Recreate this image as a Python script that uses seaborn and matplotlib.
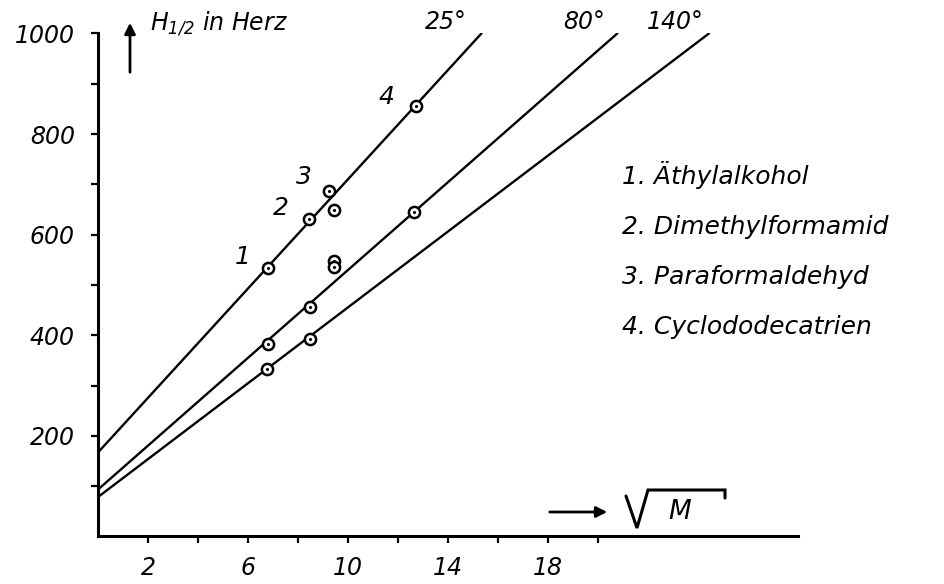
import matplotlib
matplotlib.use("Agg")
import matplotlib.pyplot as plt
import matplotlib.lines as mlines
import seaborn as sns
import pandas as pd

# ---------------- data ----------------
temps = ["25°", "80°", "140°"]
line_x_start = [0.0, 0.0, 0.0]
line_y_start = [168, 94, 79]
line_x_end = [15.33, 20.77, 24.44]
line_y_end = [1000, 1000, 1000]

compounds = ["Äthylalkohol", "Dimethylformamid", "Paraformaldehyd", "Cyclododecatrien"]

sqrtM_25 = [6.78, 8.41, 9.21, 12.69]
H_25 = [533, 631, 687, 856]
sqrtM_80 = [6.78, 8.48, 12.62]
H_80 = [382, 457, 644]
sqrtM_140 = [6.74, 8.48]
H_140 = [333, 392]
sqrtM_extra = [9.41, 9.44, 9.41]
H_extra = [649, 547, 536]

x_major = [2, 6, 10, 14, 18]
x_minor = [4, 8, 12, 16, 20]
y_major = [200, 400, 600, 800, 1000]
y_minor = [100, 300, 500, 700, 900]

# ---------------- style ----------------
sns.set_theme(style="ticks")
plt.rcParams["font.family"] = ["DejaVu Sans"]
plt.rcParams["font.style"] = "italic"
plt.rcParams["mathtext.fontset"] = "dejavusans"
plt.rcParams["mathtext.default"] = "it"
plt.rcParams["text.color"] = "black"
plt.rcParams["xtick.color"] = "black"
plt.rcParams["ytick.color"] = "black"
plt.rcParams["xtick.labelcolor"] = "black"
plt.rcParams["ytick.labelcolor"] = "black"

W, H = 945, 584
fig = plt.figure(figsize=(W / 100, H / 100), dpi=100)
fig.patch.set_facecolor("white")


def P(x, y):
    return (x / W, 1 - y / H)


ax = fig.add_axes([98.5 / W, 1 - 536.4 / H, (798 - 98.5) / W, (536.4 - 33.4) / H])
ax.set_facecolor("white")

lines_df = pd.DataFrame({
    "x": line_x_start + line_x_end,
    "y": line_y_start + line_y_end,
    "T": temps + temps,
})
sns.lineplot(data=lines_df, x="x", y="y", hue="T", palette=["black"] * 3,
             estimator=None, sort=False, legend=False, linewidth=1.7, ax=ax)

pts = pd.DataFrame({
    "x": sqrtM_25 + sqrtM_80 + sqrtM_140 + sqrtM_extra,
    "y": H_25 + H_80 + H_140 + H_extra,
})
sns.scatterplot(data=pts, x="x", y="y", marker="o", s=65, facecolor="white",
                edgecolor="black", linewidth=1.8, zorder=3, ax=ax, legend=False)
sns.scatterplot(data=pts, x="x", y="y", marker="o", s=5, color="black",
                linewidth=0, zorder=4, ax=ax, legend=False)

ax.set_xlim(0, 28)
ax.set_ylim(0, 1000)
ax.set_xticks(x_major)
ax.set_xticks(x_minor, minor=True)
ax.set_yticks(y_major)
ax.set_yticks(y_minor, minor=True)
ax.set_xticklabels([str(v) for v in x_major])
ax.set_yticklabels([str(v) for v in y_major])
ax.tick_params(which="both", direction="out", length=5, width=1.6, color="black")
ax.tick_params(axis="x", pad=9, labelsize=17, labelcolor="black")
ax.tick_params(axis="y", pad=12, labelsize=17, labelcolor="black")
ax.set_xlabel("")
ax.set_ylabel("")
sns.despine(ax=ax)
for s in ("left", "bottom"):
    ax.spines[s].set_linewidth(2.2)
    ax.spines[s].set_color("black")

# axis titles
fig.add_artist(matplotlib.patches.FancyArrowPatch(
    P(130, 75), P(130, 20), transform=fig.transFigure,
    arrowstyle="-|>", mutation_scale=16, color="black", lw=2))
fig.text(*P(150, 30), r"$H_{1/2}$" + " in Herz", ha="left", va="baseline", fontsize=17)

fig.add_artist(matplotlib.patches.FancyArrowPatch(
    P(547, 512), P(610, 512), transform=fig.transFigure,
    arrowstyle="-|>", mutation_scale=16, color="black", lw=2))
# radical sign drawn as text decoration
rx = [626, 637, 648, 725, 725]
ry = [496, 528, 490, 490, 498]
fig.add_artist(mlines.Line2D([P(x, 0)[0] for x in rx], [P(0, y)[1] for y in ry],
                             transform=fig.transFigure, color="black", lw=2.2,
                             solid_joinstyle="miter"))
fig.text(*P(680, 512), "M", ha="center", va="center", fontsize=19)

# temperature labels
for t, (px, py) in zip(temps, [(446, 22), (584, 22), (675, 22)]):
    fig.text(*P(px, py), t, ha="center", va="center", fontsize=17)

# point labels
for i, (px, py) in enumerate([(243, 257), (281, 208), (304, 177), (386, 97)], start=1):
    fig.text(*P(px, py), str(i), ha="center", va="center", fontsize=18)

# compound list
for i, (name, py) in enumerate(zip(compounds, [175, 227, 277, 327]), start=1):
    fig.text(*P(622, py), f"{i}. {name}", ha="left", va="center", fontsize=18)

fig.savefig("out.png", dpi=100, facecolor="white")
